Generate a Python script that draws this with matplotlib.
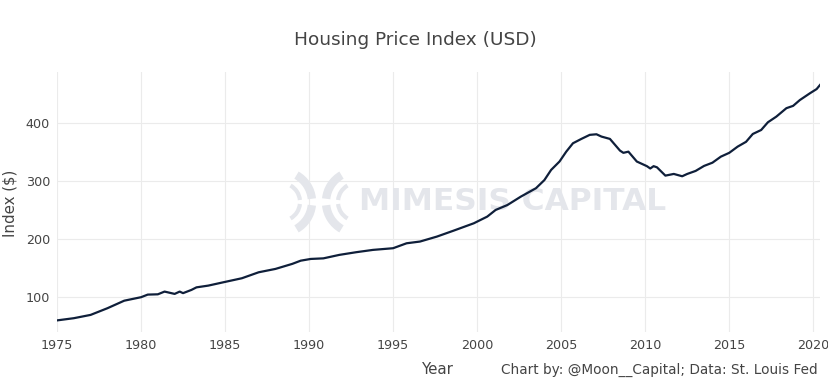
import matplotlib
matplotlib.use("Agg")
import matplotlib.pyplot as plt
import matplotlib.transforms as mtransforms
from matplotlib.patches import Arc

# values (quarterly HPI, approximate)
years = [1975.0, 1976.0, 1977.0, 1978.0, 1979.0, 1980.0, 1980.4, 1981.0, 1981.4, 1982.0,
         1982.3, 1982.5, 1983.0, 1983.3, 1984.0, 1985.0, 1986.0, 1987.0, 1988.0, 1989.0,
         1989.5, 1990.1, 1990.85, 1991.8, 1992.8, 1993.8, 1994.8, 1995.0, 1995.8, 1996.6,
         1997.6, 1998.6, 1999.8, 2000.6, 2001.1, 2001.8, 2002.6, 2003.5, 2004.0, 2004.4,
         2004.9, 2005.3, 2005.7, 2006.2, 2006.7, 2007.1, 2007.4, 2007.9, 2008.5, 2008.7,
         2009.0, 2009.5, 2010.1, 2010.3, 2010.5, 2010.7, 2011.2, 2011.7, 2012.2, 2012.5,
         2013.0, 2013.5, 2014.0, 2014.5, 2015.0, 2015.5, 2016.0, 2016.4, 2016.9, 2017.3,
         2017.8, 2018.4, 2018.8, 2019.2, 2019.8, 2020.2, 2020.4]
hpi = [60, 63.8, 69.5, 81, 94, 100, 104.5, 105, 109.7, 105.7,
       109.7, 107, 112.6, 117, 120, 126.4, 132.7, 143, 148.8, 157.5,
       163, 166, 167, 173, 177.6, 181.6, 184, 184.5, 193, 196,
       204.5, 214.8, 227.5, 239, 250.5, 259, 273.5, 288, 302, 319.5,
       334, 351, 365.5, 373, 380, 381, 377, 373, 352.8, 349,
       351, 334, 326, 322, 326, 324, 309.7, 312.6, 308.6, 312.6,
       317.8, 326.4, 332, 342.4, 349, 359.7, 368, 381.5, 388.4, 401.7,
       411.4, 426, 430, 440, 451.7, 459, 466]

x_ticks = [1975, 1980, 1985, 1990, 1995, 2000, 2005, 2010, 2015, 2020]
y_ticks = [100, 200, 300, 400]

W, H = 829, 391
txt = "#444444"
grid = "#ebebeb"
wm = "#e4e6eb"

fig = plt.figure(figsize=(W / 100, H / 100), dpi=100)
ax = fig.add_axes([57 / W, 1 - 332 / H, (820 - 57) / W, (332 - 72) / H])

# pixel coords (y from bottom) -> figure
px = mtransforms.Affine2D().scale(1 / W, 1 / H) + fig.transFigure

ax.plot(years, hpi, color="#0f1f3a", lw=1.6, zorder=3, solid_joinstyle="round")

ax.set_xlim(1975, 2020.4)
ax.set_ylim(40, 488.4)
ax.set_xticks(x_ticks)
ax.set_yticks(y_ticks)
ax.grid(True, color=grid, lw=0.8)
ax.set_axisbelow(True)
for s in ax.spines.values():
    s.set_visible(False)
ax.tick_params(length=0, labelsize=9.2, colors=txt, pad=5)

# watermark
ax.text(513, H - 201, "MIMESIS CAPITAL", transform=px, ha="center", va="center",
        fontsize=22.5, fontweight="bold", color=wm, zorder=1)
for cx, arcs in [(281, [(6, 60), (-60, -6)]), (357, [(120, 174), (186, 240)])]:
    for th1, th2 in arcs:
        ax.add_patch(Arc((cx, H - 202), 62, 62, theta1=th1, theta2=th2, transform=px,
                         color=wm, lw=6, zorder=1))
        ax.add_patch(Arc((cx, H - 202), 38, 38, theta1=th1, theta2=th2, transform=px,
                         color=wm, lw=3, zorder=1))

fig.text(415 / W, 1 - 40 / H, "Housing Price Index (USD)", ha="center", va="center",
         fontsize=13.3, color=txt)
fig.text(438 / W, 1 - 370 / H, "Year", ha="center", va="center", fontsize=10.8, color=txt)
fig.text(818 / W, 1 - 370 / H, "Chart by: @Moon__Capital; Data: St. Louis Fed",
         ha="right", va="center", fontsize=9.8, color=txt)
fig.text(10 / W, 1 - 203 / H, "Index ($)", ha="center", va="center", rotation=90,
         fontsize=10.8, color=txt)

fig.savefig("out.png", dpi=100)
